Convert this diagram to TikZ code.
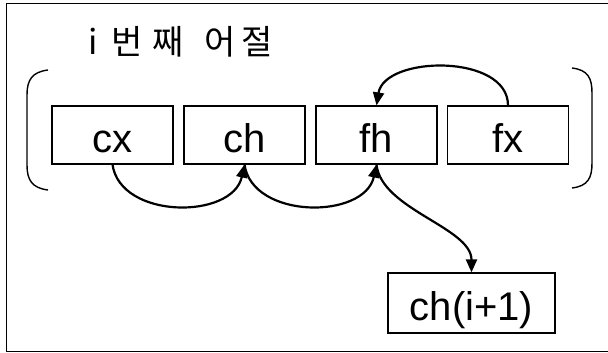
\documentclass[tikz,border=0pt]{standalone}
\usepackage{fontspec}
\setmainfont{Liberation Sans}
\newfontfamily\cjk{Noto Sans CJK KR}
\usetikzlibrary{arrows.meta}
\newcommand\gl[1]{\makebox[0pt][c]{#1}}
\begin{document}
\begin{tikzpicture}[x=1pt,y=-1pt,
  cell/.style={draw,line width=1.2pt,minimum width=121pt,minimum height=58pt,inner sep=0pt,
    font=\fontsize{40}{40}\selectfont,text height=34pt,text depth=0pt},
  link/.style={line width=2.2pt,line cap=round},
  tip/.style={-{Triangle[length=13pt,width=11pt]}},
  brack/.style={line width=1.4pt}]
\useasboundingbox (0,0) rectangle (608,353);
\fill[white] (0,0) rectangle (608,353);
% frame
\draw[line width=1.4pt] (608,3.5) -- (6.5,3.5) -- (6.5,351.5) -- (608,351.5);
% title
\node[anchor=base west,inner sep=0pt,font=\cjk\fontsize{34}{34}\selectfont] (title) at (93,55)
  {\gl{i}\hspace{33.5pt}\gl{번}\hspace{41pt}\gl{째}\hspace{52.5pt}\gl{어}\hspace{37pt}\gl{절}};
% brackets
\draw[brack] (48,70) .. controls (32,72) and (27,80) .. (27,95) -- (27,165) .. controls (27,180) and (32,188) .. (48,190);
\draw[brack] (572,68) .. controls (588,70) and (592,78) .. (592,93) -- (592,163) .. controls (592,178) and (588,186) .. (572,188);
% boxes
\node[cell] (cx) at (112.5,135) {cx};
\node[cell] (ch) at (244.5,135) {ch};
\node[cell] (fh) at (376.5,135) {fh};
\node[cell] (fx) at (508,135) {fx};
\node[cell,minimum width=167pt,minimum height=60pt] (chn) at (471.5,303) {ch(i+1)};
% links
\draw[link,tip] (cx.south) .. controls +(8,55) and +(-12,55) .. (ch.south);
\draw[link,tip] (ch.south) .. controls +(8,55) and +(-12,55) .. (fh.south);
\draw[link,tip] (fh.south) .. controls +(5,45) and +(0,-45) .. (chn.north);
\draw[link,tip] (fx.north) .. controls +(0,-52) and +(8,-50) .. (fh.north);
\end{tikzpicture}
\end{document}
